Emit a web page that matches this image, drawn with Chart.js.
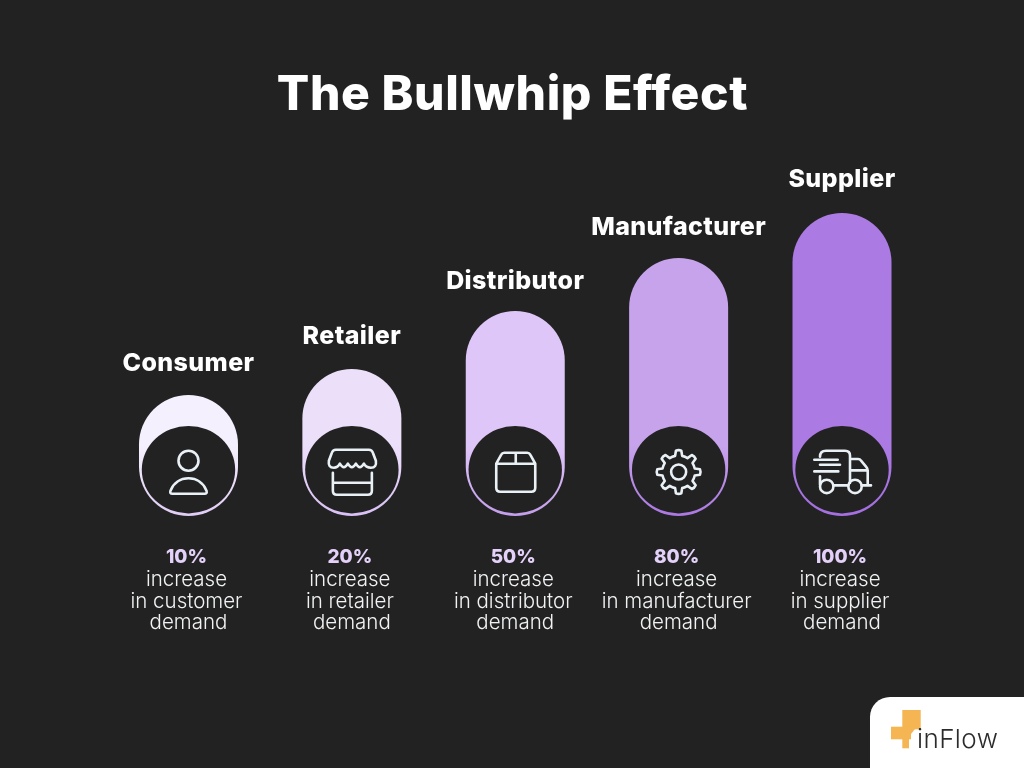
<!DOCTYPE html>
<html>
<head>
<meta charset="utf-8">
<title>The Bullwhip Effect</title>
<script src="https://cdn.jsdelivr.net/npm/chart.js@4"></script>
<style>
  html, body { margin: 0; padding: 0; background: #222222; }
  canvas { display: block; }
</style>
</head>
<body>
<canvas id="bullwhipChart" width="1024" height="768"></canvas>
<script>
// Data
const categories = ['Consumer', 'Retailer', 'Distributor', 'Manufacturer', 'Supplier'];
const barHeights = [121, 147, 205, 258, 303]; // drawn height of each pill
const percentLabels = ['10%', '20%', '50%', '80%', '100%'];
const demandLines = ['in customer', 'in retailer', 'in distributor', 'in manufacturer', 'in supplier'];
const chartTitle = 'The Bullwhip Effect';

// Styles
const topColors = ['#f5f0fd', '#ecdffa', '#dfc6f9', '#c7a3ec', '#ab7ae3'];
const bottomColors = ['#e0cdf6', '#d9c0f5', '#c39eeb', '#ab78e2', '#a46fe0'];
const nameGaps = [24, 25, 22, 23, 26]; // name baseline above the top of the pill
const BG = '#222222';
const ICON = '#e9f1f6';
const FONT = 'Inter, sans-serif';

function roundRectPath(c, x, y, w, h, r) {
  c.beginPath();
  c.roundRect(x, y, w, h, r);
}

// Icons, offsets measured from the centre of the dark disc
function drawUser(c) {
  c.beginPath();
  c.arc(0, -9, 10, 0, Math.PI * 2);
  c.stroke();
  c.beginPath();
  c.moveTo(-16, 24);
  c.quadraticCurveTo(-19, 24, -18, 21);
  c.bezierCurveTo(-15, 13, -8, 8.5, 0, 8.5);
  c.bezierCurveTo(8, 8.5, 15, 13, 18, 21);
  c.quadraticCurveTo(19, 24, 16, 24);
  c.closePath();
  c.stroke();
}

function drawStore(c) {
  c.beginPath();
  c.moveTo(-16, -20);
  c.lineTo(17, -20);
  c.quadraticCurveTo(20, -20, 21, -17);
  c.lineTo(24, -9);
  c.quadraticCurveTo(25, -2, 19, -2);
  c.quadraticCurveTo(14, -2, 12, -6);
  c.quadraticCurveTo(8, 1, 4, -6);
  c.quadraticCurveTo(0, 1, -4, -6);
  c.quadraticCurveTo(-8, 1, -12, -6);
  c.quadraticCurveTo(-14, -2, -18, -2);
  c.quadraticCurveTo(-24, -2, -23, -9);
  c.lineTo(-20, -17);
  c.quadraticCurveTo(-19, -20, -16, -20);
  c.closePath();
  c.stroke();
  c.beginPath();
  c.moveTo(-19, 3);
  c.lineTo(-19, 21);
  c.quadraticCurveTo(-19, 25, -15, 25);
  c.lineTo(16, 25);
  c.quadraticCurveTo(20, 25, 20, 21);
  c.lineTo(20, 3);
  c.moveTo(-19, 13);
  c.lineTo(20, 13);
  c.stroke();
}

function drawBox(c) {
  c.beginPath();
  c.moveTo(-19, -6);
  c.lineTo(-19, 18);
  c.quadraticCurveTo(-19, 22, -15, 22);
  c.lineTo(16, 22);
  c.quadraticCurveTo(20, 22, 20, 18);
  c.lineTo(20, -6);
  c.lineTo(15, -15);
  c.quadraticCurveTo(14, -17, 12, -17);
  c.lineTo(-11, -17);
  c.quadraticCurveTo(-13, -17, -14, -15);
  c.closePath();
  c.moveTo(-19, -6);
  c.lineTo(20, -6);
  c.moveTo(0.5, -17);
  c.lineTo(0.5, -6);
  c.stroke();
}

function drawGear(c) {
  c.save();
  c.translate(0, 2.3);
  c.beginPath();
  c.arc(0, 0, 7.5, 0, Math.PI * 2);
  c.stroke();
  c.beginPath();
  const teeth = 8;
  for (let i = 0; i < teeth; i++) {
    const a = (i / teeth) * Math.PI * 2 - Math.PI / 2;
    const step = Math.PI / teeth;
    const p = (r, t) => [r * Math.cos(t), r * Math.sin(t)];
    const [x1, y1] = p(16.5, a - step * 0.55);
    const [x2, y2] = p(21.5, a - step * 0.32);
    const [xm, ym] = p(22.5, a);
    const [x3, y3] = p(21.5, a + step * 0.32);
    const [x4, y4] = p(16.5, a + step * 0.55);
    if (i === 0) c.moveTo(x1, y1); else c.lineTo(x1, y1);
    c.lineTo(x2, y2);
    c.quadraticCurveTo(xm, ym, x3, y3);
    c.lineTo(x4, y4);
    c.arc(0, 0, 16.5, a + step * 0.55, a + step * 1.45);
  }
  c.closePath();
  c.stroke();
  c.restore();
}

function drawTruck(c) {
  c.beginPath();
  c.moveTo(-27.7, -10); c.lineTo(-4.3, -10);
  c.moveTo(-22, -5); c.lineTo(-2, -5);
  c.moveTo(-27.7, 1.7); c.lineTo(-3.7, 1.7);
  c.moveTo(-22, -13);
  c.quadraticCurveTo(-22, -19, -16, -19);
  c.lineTo(3, -19);
  c.quadraticCurveTo(8, -19, 8, -14);
  c.lineTo(8, 13.3);
  c.moveTo(8, -10.7);
  c.lineTo(16, -10.7);
  c.quadraticCurveTo(18, -10.7, 19, -9);
  c.lineTo(24, -3);
  c.quadraticCurveTo(25.7, -1, 25.7, 1);
  c.lineTo(25.7, 15);
  c.moveTo(8, 0.7); c.lineTo(25.7, 0.7);
  c.moveTo(-8.7, 15.7); c.lineTo(6.3, 15.7);
  c.moveTo(19.7, 15.7); c.lineTo(29, 15.7);
  c.moveTo(-22, 6.7); c.lineTo(-22, 15);
  c.stroke();
  c.beginPath();
  c.arc(-15.3, 16.7, 6.7, 0, Math.PI * 2);
  c.stroke();
  c.beginPath();
  c.arc(13, 16.7, 6.7, 0, Math.PI * 2);
  c.stroke();
}

const iconDrawers = [drawUser, drawStore, drawBox, drawGear, drawTruck];

function drawLogo(c) {
  c.fillStyle = '#ffffff';
  roundRectPath(c, 870, 697, 200, 120, 20);
  c.fill();
  c.fillStyle = '#f4b552';
  c.fillRect(902.3, 710, 18.4, 19.3);
  c.fillRect(891, 726.7, 20, 12.6);
  c.fillRect(902.3, 739, 6.7, 9.3);
  c.beginPath();
  c.moveTo(911, 729);
  c.lineTo(915, 729);
  c.lineTo(911, 734);
  c.closePath();
  c.fill();
  c.fillStyle = '#2b2b2b';
  c.font = '300 26px ' + FONT;
  c.letterSpacing = '0.4px';
  c.textAlign = 'left';
  c.fillText('inFlow', 917, 748);
  c.letterSpacing = '0px';
}

// Dark discs, icons and all the text hang off the library's scales
const overlayPlugin = {
  id: 'overlay',
  afterDatasetsDraw(chart) {
    const c = chart.ctx;
    const xs = chart.scales.x;
    const ys = chart.scales.y;
    const discY = ys.getPixelForValue(46.3);
    c.save();
    c.textBaseline = 'alphabetic';
    c.textAlign = 'center';

    c.fillStyle = '#ffffff';
    c.font = '800 48px ' + FONT;
    c.letterSpacing = '0.6px';
    c.fillText(chartTitle, 512.5, 110);

    categories.forEach((name, i) => {
      const x = xs.getPixelForValue(i);
      c.fillStyle = BG;
      c.beginPath();
      c.ellipse(x, discY, 46.7, 43.7, 0, 0, Math.PI * 2);
      c.fill();

      c.save();
      c.translate(x, discY);
      c.strokeStyle = ICON;
      c.lineWidth = 2.6;
      c.lineJoin = 'round';
      c.lineCap = 'round';
      iconDrawers[i](c);
      c.restore();

      c.fillStyle = '#ffffff';
      c.font = '800 25px ' + FONT;
      c.letterSpacing = '0.4px';
      c.fillText(name, x, ys.getPixelForValue(barHeights[i]) - nameGaps[i]);

      c.fillStyle = '#e3d1f9';
      c.font = '800 19px ' + FONT;
      c.letterSpacing = '0px';
      c.fillText(percentLabels[i], x - 2, 563);

      c.fillStyle = '#f0f2f4';
      c.font = '300 20.5px ' + FONT;
      c.fillText('increase', x - 2, 585.7);
      c.fillText(demandLines[i], x - 2, 607.7);
      c.fillText('demand', x, 628.7);
    });

    drawLogo(c);
    c.restore();
  }
};

const chart = new Chart(document.getElementById('bullwhipChart').getContext('2d'), {
  type: 'bar',
  data: {
    labels: categories,
    datasets: [{
      label: 'Bullwhip',
      data: barHeights,
      backgroundColor(context) {
        const y = context.chart.scales.y;
        const i = context.dataIndex;
        // до первой разметки шкалы ещё не готовы
        if (i === undefined || !context.chart.chartArea) return topColors[i || 0];
        const g = context.chart.ctx.createLinearGradient(0, y.getPixelForValue(70), 0, y.getPixelForValue(0));
        g.addColorStop(0, topColors[i]);
        g.addColorStop(1, bottomColors[i]);
        return g;
      },
      borderWidth: 0,
      borderRadius: 49.5,
      borderSkipped: false,
      inflateAmount: 0,
      barPercentage: 99 / 163.38,
      categoryPercentage: 1
    }]
  },
  options: {
    responsive: false,
    animation: false,
    events: [],
    layout: { padding: { left: 106.8, right: 100.3, top: 0, bottom: 0 } },
    plugins: {
      legend: { display: false },
      tooltip: { enabled: false }
    },
    scales: {
      x: { display: false, grid: { display: false } },
      y: { display: false, min: -252, max: 516, grid: { display: false } }
    }
  },
  plugins: [overlayPlugin]
});
</script>
</body>
</html>
